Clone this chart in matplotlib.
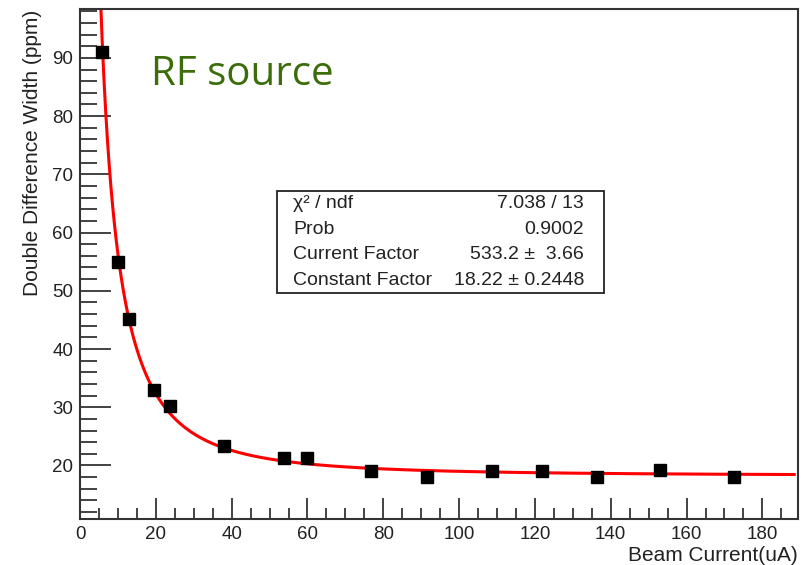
import numpy as np
import matplotlib.pyplot as plt
from matplotlib.ticker import MultipleLocator

# measured points
beam_current = [5.7, 9.9, 12.9, 19.6, 23.7, 38.1, 53.8, 59.8, 76.8, 91.6, 108.8, 121.8, 136.5, 152.9, 172.6]
dd_width = [91.0, 55.0, 45.2, 33.0, 30.2, 23.3, 21.2, 21.3, 19.1, 18.1, 19.1, 19.1, 18.1, 19.2, 18.1]

# fit parameters from the stat box
current_factor = 533.2
constant_factor = 18.22
stat_rows = [
    ("\u03c7\u00b2 / ndf", "7.038 / 13"),
    ("Prob", "0.9002"),
    ("Current Factor", "533.2 \u00b1  3.66"),
    ("Constant Factor", "18.22 \u00b1 0.2448"),
]

plt.rcParams['font.family'] = ['Liberation Sans', 'DejaVu Sans']

fig = plt.figure(figsize=(8.08, 5.65), dpi=100)
ax = fig.add_axes([80 / 808, 1 - 519 / 565, 718 / 808, 510 / 565])

xfit = np.linspace(5.4, 188.4, 400)
yfit = np.sqrt((current_factor / xfit) ** 2 + constant_factor ** 2)
ax.plot(xfit, yfit, color='#ff0000', lw=2.2, zorder=2)
ax.plot(beam_current, dd_width, 's', color='black', ms=8.5, zorder=3)

ax.set_xlim(0, 189.4)
ax.set_ylim(10.8, 98.4)
ax.xaxis.set_major_locator(MultipleLocator(20))
ax.xaxis.set_minor_locator(MultipleLocator(5))
ax.yaxis.set_major_locator(MultipleLocator(10))
ax.yaxis.set_minor_locator(MultipleLocator(2))
ax.tick_params(axis='both', which='both', direction='in', top=False, right=False,
               labelsize=13.5, colors='#222222', width=1.2)
ax.tick_params(axis='y', which='major', length=22, pad=5)
ax.tick_params(axis='y', which='minor', length=12)
ax.tick_params(axis='x', which='major', length=15, pad=5)
ax.tick_params(axis='x', which='minor', length=8)
for s in ax.spines.values():
    s.set_linewidth(1.5)
    s.set_color('#333333')

ax.set_xlabel('Beam Current(uA)', fontsize=15, color='#222222')
ax.xaxis.set_label_coords(1.0, -0.052)
ax.xaxis.label.set_horizontalalignment('right')
ax.xaxis.label.set_verticalalignment('top')
ax.set_ylabel('Double Difference Width (ppm)', fontsize=15, color='#222222')
ax.yaxis.set_label_coords(-0.053, 0.998)
ax.yaxis.label.set_verticalalignment('bottom')
ax.yaxis.label.set_horizontalalignment('right')

# stat box
bx0, bx1, by0, by1 = 277, 604, 191, 293
box = plt.Rectangle((bx0 / 808, 1 - by1 / 565), (bx1 - bx0) / 808, (by1 - by0) / 565,
                    transform=fig.transFigure, fill=True, facecolor='white',
                    edgecolor='#222222', lw=1.3, zorder=5)
fig.add_artist(box)
row_h = (by1 - by0) / len(stat_rows)
for i, (name, val) in enumerate(stat_rows):
    yc = 1 - (by0 + row_h * (i + 0.5)) / 565
    fig.text(293 / 808, yc, name, fontsize=14, va='center', ha='left', color='#222222', zorder=6)
    fig.text(584 / 808, yc, val, fontsize=14, va='center', ha='right', color='#222222', zorder=6)

fig.text(151 / 808, 1 - 85 / 565, 'RF source', fontsize=29, color='#3b6e0a',
         family=['Open Sans', 'DejaVu Sans'], va='baseline', ha='left')

fig.savefig('out.png', dpi=100)
